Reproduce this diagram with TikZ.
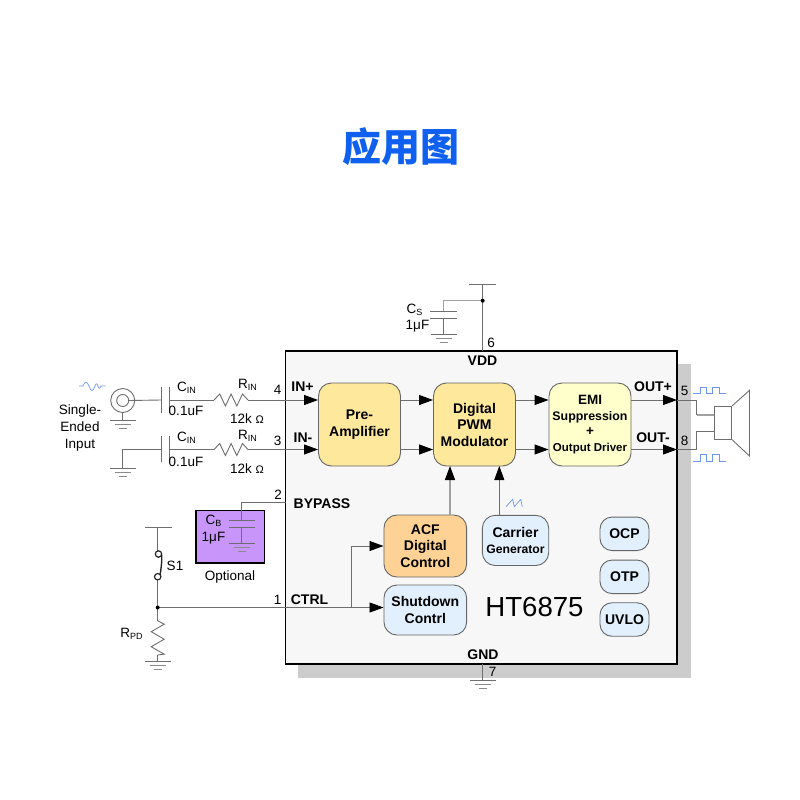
\documentclass[tikz,border=0pt]{standalone}
\usepackage{fontspec}
\setmainfont{Liberation Sans}
\newfontfamily\cjkfont{Noto Sans CJK SC}
\usetikzlibrary{arrows.meta}
\definecolor{wirec}{HTML}{6E6E6E}
\definecolor{edgec}{HTML}{666666}
\definecolor{blockyellow}{HTML}{FDE89C}
\definecolor{paleyellow}{HTML}{FFFFCC}
\definecolor{blockorange}{HTML}{FDD294}
\definecolor{blockblue}{HTML}{E2EFFC}
\definecolor{optpurple}{HTML}{C896FA}
\definecolor{wave}{HTML}{6C96F0}
\definecolor{titleblue}{HTML}{1060F0}
\newcommand{\lowsub}[1]{\raisebox{-2pt}{\fontsize{9}{9}\selectfont #1}}
\tikzset{
  wire/.style={draw=wirec,line width=0.9pt},
  lightwire/.style={draw=wirec!65,line width=1.3pt},
  arrowwire/.style={wire,-{Triangle[length=14pt,width=10pt,fill=black,color=black]}},
  lightarrow/.style={lightwire,-{Triangle[length=14pt,width=10pt,fill=black,color=black]}},
  block/.style={draw=edgec,line width=0.9pt,rounded corners=13pt,inner sep=0pt,align=center,anchor=center},
  yblock/.style={block,fill=blockyellow,minimum width=82pt,minimum height=83pt,font=\fontsize{14}{16.5}\selectfont\bfseries},
  bblock/.style={block,fill=blockblue,font=\fontsize{14}{16.5}\selectfont\bfseries},
  sblock/.style={bblock,minimum width=49pt,minimum height=33.5pt,rounded corners=12pt},
  label/.style={inner sep=0pt,anchor=center,align=center,font=\fontsize{13.5}{17}\selectfont},
  pinlabel/.style={label,font=\fontsize{14}{16}\selectfont\bfseries},
  wavy/.style={draw=wave,line width=0.7pt},
  gnd/.pic={
    \draw[wire] (-13,0) -- (13,0);
    \draw[wire,draw=wirec!80] (-8,4) -- (8,4);
    \draw[wire,draw=wirec!80] (-4,8) -- (4,8);
  },
}
\begin{document}
\begin{tikzpicture}[x=1pt,y=-1pt]
\useasboundingbox (0,0) rectangle (800,800);
\fill[white] (0,0) rectangle (800,800);

\node[inner sep=0pt,text=titleblue,font=\fontsize{39}{39}\selectfont\cjkfont\bfseries] (title) at (401,147) {应用图};

% chip and shadow
\fill[black!20] (298,364) rectangle (691,678);
\node[draw=black,line width=1.6pt,fill=black!3,inner sep=0pt,minimum width=391.5pt,minimum height=313pt] (chip) at (481.25,507.5) {};

% coordinates: pins
\coordinate (pin4) at (285.5,400);
\coordinate (pin3) at (285.5,449.5);
\coordinate (pin2) at (285.5,502.5);
\coordinate (pin1) at (285.5,607.5);
\coordinate (pin6) at (482.7,351);
\coordinate (pin7) at (482.7,664);
\coordinate (pin5) at (677,400);
\coordinate (pin8) at (677,449.5);

% blocks
\node[yblock] (pre) at (359.5,424.5) {Pre-\\Amplifier};
\node[yblock] (pwm) at (474.5,424.5) {Digital\\PWM\\Modulator};
\node[yblock,fill=paleyellow,font=\fontsize{12.4}{15.5}\selectfont\bfseries] (emi) at (590,424.5) {{\fontsize{13.5}{15.5}\selectfont EMI}\\Suppression\\{\fontsize{13.5}{15.5}\selectfont +}\\{\fontsize{11.5}{15.5}\selectfont Output Driver}};
\node[block,fill=blockorange,minimum width=82.7pt,minimum height=62pt,font=\fontsize{14}{16.5}\selectfont\bfseries] (acf) at (425.3,546) {ACF\\Digital\\Control};
\node[bblock,minimum width=82.7pt,minimum height=50pt] (shut) at (425.3,610) {Shutdown\\Contrl};
\node[bblock,minimum width=66.4pt,minimum height=50.2pt] (carrier) at (515.5,540.4) {Carrier\\{\fontsize{12.2}{15}\selectfont Generator}};
\node[sblock] (ocp) at (624.5,533.8) {OCP};
\node[sblock] (otp) at (624.5,576.8) {OTP};
\node[sblock] (uvlo) at (624.5,619.5) {UVLO};

\node[inner sep=0pt,font=\fontsize{27.6}{28}\selectfont] (part) at (534.5,606.5) {HT6875};

% internal connectors
\draw[arrowwire] (pin4) -- (pin4 -| pre.west);
\draw[arrowwire] (pin3) -- (pin3 -| pre.west);
\draw[arrowwire] (pre.east |- pin4) -- (pwm.west |- pin4);
\draw[arrowwire] (pre.east |- pin3) -- (pwm.west |- pin3);
\draw[arrowwire] (pwm.east |- pin4) -- (emi.west |- pin4);
\draw[arrowwire] (pwm.east |- pin3) -- (emi.west |- pin3);
\draw[arrowwire] (emi.east |- pin5) -- (pin5);
\draw[arrowwire] (emi.east |- pin8) -- (pin8);
\draw[lightarrow] (450,515) -- (450,466);
\draw[arrowwire] (499.3,515.3) -- (499.3,466);
\coordinate (ctrlj) at (351.7,607.5);
\coordinate (sw) at (157.7,607.5);
\draw[wire] (sw) -- (pin1) -- (ctrlj);
\draw[arrowwire] (ctrlj) -- (ctrlj -| shut.west);
\draw[arrowwire] (ctrlj) |- (acf.west);

% input 1
\node[draw=wirec,line width=0.9pt,circle,minimum size=24pt,inner sep=0pt] (coax) at (122.7,400.5) {};
\node[draw=wirec,line width=0.9pt,circle,minimum size=12pt,inner sep=0pt] (coaxin) at (122.7,400.5) {};
\coordinate (c1a) at (161,400);
\coordinate (c1b) at (169,400);
\coordinate (r1a) at (214,400);
\coordinate (r1b) at (248,400);
\draw[wire] (coaxin.east) -- (c1a);
\draw[wire] (c1a |- 0,387) -- (c1a |- 0,413);
\draw[wire] (c1b |- 0,387) -- (c1b |- 0,413);
\draw[wire] (c1b) -- (r1a);
\draw[wire] (r1a) -- ++(5.7,-6) -- ++(5.7,12) -- ++(5.7,-12) -- ++(5.7,12) -- ++(5.7,-12) -- (r1b);
\draw[wire] (r1b) -- (pin4);
\coordinate (g1) at (122.7,420);
\draw[wire] (coax.south) -- (g1);
\pic at (g1) {gnd};
\draw[wavy] (79,386) -- (83,386) .. controls (85,381) and (87,381) .. (89,386) .. controls (91,392) and (93,392) .. (95,386) .. controls (96,383) and (97,383) .. (98,386) .. controls (99,389) and (100,389) .. (101,386) -- (105.5,386);

% input 2
\coordinate (c2a) at (161,449.5);
\coordinate (c2b) at (169,449.5);
\coordinate (r2a) at (214,449.5);
\coordinate (r2b) at (248,449.5);
\coordinate (g2) at (122.7,468);
\draw[wire] (g2) |- (c2a);
\draw[wire] (c2a |- 0,436) -- (c2a |- 0,462);
\draw[wire] (c2b |- 0,436) -- (c2b |- 0,462);
\draw[wire] (c2b) -- (r2a);
\draw[wire] (r2a) -- ++(5.7,-6) -- ++(5.7,12) -- ++(5.7,-12) -- ++(5.7,12) -- ++(5.7,-12) -- (r2b);
\draw[wire] (r2b) -- (pin3);
\pic at (g2) {gnd};

% optional bypass capacitor
\node[draw=black,line width=1.4pt,fill=optpurple,inner sep=0pt,minimum width=68.7pt,minimum height=52.3pt] (opt) at (230.4,536.8) {};
\coordinate (cbt) at (241.7,520);
\coordinate (cbb) at (241.7,527);
\coordinate (cbg) at (241.7,543);
\draw[wire] (pin2) -| (cbt);
\draw[wire] (228.5,520) -- (255,520);
\draw[wire] (228.5,527) -- (255,527);
\draw[wire] (cbb) -- (cbg);
\pic at (cbg) {gnd};

% switch and pull-down
\coordinate (vtop) at (157.7,527.3);
\coordinate (swt) at (157.7,551);
\coordinate (swb) at (157.7,580);
\coordinate (rpda) at (157.7,620.7);
\coordinate (rpdb) at (157.7,655);
\coordinate (g3) at (157.7,661);
\draw[wire] (145,527.3) -- (171.6,527.3);
\draw[wire] (vtop) -- (swt);
\draw[wire] (swb) -- (sw);
\draw[wire] (sw) -- (rpda);
\draw[wire] (rpda) -- ++(6.5,3.5) -- ++(-13,7.5) -- ++(13,7.5) -- ++(-13,7.5) -- ++(13,7.5) -- (rpdb);
\draw[wire] (rpdb) -- (g3);
\pic at (g3) {gnd};
\draw[black!85,line width=1.2pt,fill=white] (158.5,554) circle (3.2pt);
\draw[black!85,line width=1.2pt,fill=white] (157.7,576.7) circle (3.2pt);
\draw[black!85,line width=1.4pt] (161.8,555) .. controls (162,562) and (161,570) .. (160,575);
\fill[black] (sw) circle (2pt);

% VDD
\coordinate (vdd) at (482.7,284.3);
\coordinate (vddj) at (482.7,300.7);
\coordinate (cst) at (443.5,311.5);
\coordinate (csb) at (443.5,318);
\coordinate (csg) at (443.5,334);
\draw[wire] (469.3,284.3) -- (496,284.3);
\draw[wire] (vdd) -- (pin6);
\draw[lightwire] (vddj) -| (cst);
\draw[wire] (430,311.5) -- (457,311.5);
\draw[wire] (430,318) -- (457,318);
\draw[wire] (csb) -- (csg);
\pic at (csg) {gnd};
\fill[black] (vddj) circle (2pt);

% GND
\coordinate (g4) at (482.7,680.3);
\draw[wire] (pin7) -- (g4);
\pic at (g4) {gnd};

% speaker
\coordinate (spk1) at (714.7,415);
\coordinate (spk2) at (714.7,431);
\draw[wire] (pin5) -- (696.7,400) -- (696.7,415);
\draw[lightwire] (696.7,415) -- (spk1);
\draw[wire] (pin8) -- (696.7,449.5) -- (696.7,431) -- (spk2);
\node[draw=wirec,line width=0.9pt,inner sep=0pt,minimum width=17pt,minimum height=33pt] (coil) at (723.2,422.8) {};
\draw[wire] (coil.north east) -- (749.5,390.3) -- (749.5,456) -- (coil.south east);

% waveforms
\draw[wavy] (693.3,393.3) -- (700,393.3) -- (700,387.3) -- (706,387.3) -- (706,393.3) -- (712.7,393.3) -- (712.7,387.3) -- (719.3,387.3) -- (719.3,393.3) -- (725.7,393.3);
\draw[wavy] (693.3,461) -- (700,461) -- (700,454.3) -- (706,454.3) -- (706,461) -- (712.7,461) -- (712.7,454.3) -- (719.3,454.3) -- (719.3,461) -- (725.7,461);
\draw[wavy] (506,506.7) -- (512.7,499.3) -- (514.3,506.7) -- (520.7,499.3) -- (514.3,506.7) (520.7,499.3) -- (522.3,506.7);

% labels
\node[label] (single) at (80,428) {Single-\\Ended\\Input};
\node[label] (cin1) at (186.5,388) {C\lowsub{IN}};
\node[label] (cv1) at (186,411) {0.1uF};
\node[label] (rin1) at (247.5,385) {R\lowsub{IN}};
\node[label] (rv1) at (247,419) {12k {\fontsize{11}{11}\selectfont Ω}};
\node[label] (cin2) at (186.5,438) {C\lowsub{IN}};
\node[label] (cv2) at (186,462) {0.1uF};
\node[label] (rin2) at (247.5,436) {R\lowsub{IN}};
\node[label] (rv2) at (247,469) {12k {\fontsize{11}{11}\selectfont Ω}};
\node[label] (n4) at (277.5,390) {4};
\node[label] (n3) at (277.5,440.5) {3};
\node[label] (n2) at (278,495) {2};
\node[label] (n1) at (277.5,600) {1};
\node[label] (n6) at (491,343) {6};
\node[label] (n7) at (492.5,672) {7};
\node[label] (n5) at (684.5,390.5) {5};
\node[label] (n8) at (684.5,441) {8};
\node[pinlabel] (lin1) at (302.5,386.5) {IN+};
\node[pinlabel] (lin2) at (303,437.5) {IN-};
\node[pinlabel] (lby) at (322,504) {BYPASS};
\node[pinlabel] (lct) at (309.5,600) {CTRL};
\node[pinlabel] (lvd) at (482.5,360.5) {VDD};
\node[pinlabel] (lgn) at (483,655) {GND};
\node[pinlabel] (lo1) at (653,387) {OUT+};
\node[pinlabel] (lo2) at (653,437.5) {OUT-};
\node[label] (lcs) at (414.5,310) {C\lowsub{S}};
\node[label] (lcsv) at (417.5,326) {1μF};
\node[label] (lcb) at (213.5,521) {C\lowsub{B}};
\node[label] (lcbv) at (213.5,538) {1μF};
\node[label] (lopt) at (230,577) {Optional};
\node[label] (ls1) at (175,565.5) {S1};
\node[label] (lrpd) at (131.5,633.5) {R\lowsub{PD}};
\end{tikzpicture}
\end{document}
